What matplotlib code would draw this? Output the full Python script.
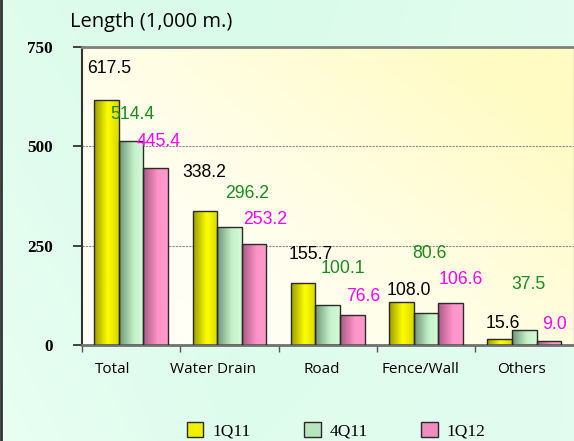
import numpy as np
import matplotlib
matplotlib.use("Agg")
import matplotlib.pyplot as plt
from matplotlib.colors import LinearSegmentedColormap, to_rgb
from matplotlib.patches import Patch

# ---- data ----
categories = ["Total", "Water Drain", "Road", "Fence/Wall", "Others"]
series_names = ["1Q11", "4Q11", "1Q12"]
v_1q11 = [617.5, 338.2, 155.7, 108.0, 15.6]
v_4q11 = [514.4, 296.2, 100.1, 80.6, 37.5]
v_1q12 = [445.4, 253.2, 76.6, 106.6, 9.0]
y_ticks = [0, 250, 500, 750]

# label placement (text positions, in axis data units)
lab_dx = [[-0.226, -0.256, -0.175, -0.175, -0.221],
          [0.013, 0.175, 0.150, 0.033, 0.043],
          [0.282, 0.368, 0.363, 0.358, 0.302]]
lab_y = [[697, 434, 229, 137, 54],
         [580, 382.5, 192.5, 231.5, 153.5],
         [512, 314.6, 121, 163.6, 51.6]]
cat_label_dx = [-0.19, -0.17, -0.06, -0.06, -0.03]

values = [v_1q11, v_4q11, v_1q12]
label_colors = ["#000000", "#1a8c1a", "#ff00ff"]
grad_stops = [
    [(0.0, "#9a9a00"), (0.55, "#ffff00"), (1.0, "#d8d800")],
    [(0.0, "#6e9478"), (0.6, "#c4f2c8"), (1.0, "#d4fad6")],
    [(0.0, "#a85a86"), (0.6, "#ff94c8"), (1.0, "#ff9acc")],
]
legend_colors = ["#f0f000", "#b8e6bc", "#f08cc0"]

W, H = 574, 441
fig = plt.figure(figsize=(W / 100, H / 100), dpi=100)

# figure background gradient
bg = fig.add_axes([0, 0, 1, 1], zorder=-10)
gx, gy = np.meshgrid(np.linspace(0, 1, 200), np.linspace(0, 1, 200))
c1 = np.array(to_rgb("#d9fbe9"))
c2 = np.array(to_rgb("#ecfff6"))
t = np.clip(np.abs(gx - 0.4) * 0.8 + gy * 0.5 * (1 - gx), 0, 1)[..., None]
img = c1 + (c2 - c1) * t
bg.imshow(img, extent=[0, 1, 0, 1], aspect="auto", origin="upper")
bg.set_xlim(0, 1); bg.set_ylim(0, 1)
bg.axis("off")
bg.plot([0.001, 0.001], [0, 1], color="#333333", lw=2)

left = 82 / W
bottom = (H - 345) / H
top = (H - 47) / H
ax = fig.add_axes([left, bottom, 1 - left - 0.5 / W, top - bottom])

ax.set_xlim(-0.5, len(categories) - 0.5)
ax.set_ylim(0, 750)

# plot-area gradient
px, py = np.meshgrid(np.linspace(0, 1, 200), np.linspace(1, 0, 200))
p1 = np.array(to_rgb("#fffff6"))
p2 = np.array(to_rgb("#fffbc2"))
tp = np.clip((px * 0.8 + py * 0.6) - 0.25, 0, 1) ** 1.3
pimg = p1 + (p2 - p1) * tp[..., None]
ax.imshow(pimg, extent=[-0.5, len(categories) - 0.5, 0, 750], aspect="auto",
          origin="upper", zorder=0)

# gridlines
for yv in [250, 500]:
    ax.axhline(yv, color="#8a8a8a", lw=0.8, ls=(0, (2, 1)), zorder=1)

bw = 0.25
x = np.arange(len(categories))
grad = np.linspace(0, 1, 64).reshape(1, -1)
for si, vals in enumerate(values):
    cmap = LinearSegmentedColormap.from_list("g%d" % si, grad_stops[si])
    offs = (si - 1) * bw
    bars = ax.bar(x + offs, vals, width=bw, color="none",
                  edgecolor="#2a2a2a", lw=1.0, zorder=3)
    for b in bars:
        bx, by = b.get_x(), b.get_y()
        im = ax.imshow(grad, cmap=cmap, aspect="auto",
                       extent=[bx, bx + b.get_width(), by, by + b.get_height()],
                       zorder=2, interpolation="bicubic")
        im.set_clip_path(b)
    for ci, v in enumerate(vals):
        ax.text(ci + lab_dx[si][ci], lab_y[si][ci], "%.1f" % v,
                ha="center", va="center", color=label_colors[si],
                fontsize=12.7, family="Liberation Sans", zorder=5)

ax.set_xlim(-0.5, len(categories) - 0.5)
ax.set_ylim(0, 750)

# y axis
ax.set_yticks(y_ticks)
ax.set_yticklabels([str(v) for v in y_ticks], fontsize=12.3,
                   family="Liberation Serif", fontweight="bold")
ax.tick_params(axis="y", length=6.5, width=1.3, color="#333333", pad=14.5)

# x axis
ax.set_xticks(x + np.array(cat_label_dx))
ax.set_xticklabels(categories, fontsize=11, family="Open Sans")
ax.set_xticks(np.arange(len(categories)) - 0.5, minor=True)
ax.tick_params(axis="x", which="major", length=0, pad=12)
ax.tick_params(axis="x", which="minor", length=5, width=1.0, color="#555555")

ax.spines["left"].set_color("#333333")
ax.spines["left"].set_linewidth(1.5)
ax.spines["bottom"].set_color("#707070")
ax.spines["bottom"].set_linewidth(2)
ax.spines["top"].set_color("#808080")
ax.spines["top"].set_linewidth(2)
ax.spines["right"].set_color("#b8b8b8")
ax.spines["right"].set_linewidth(1)

fig.text(70 / W, 1 - 22 / H, "Length (1,000 m.)", fontsize=14.5,
         family="Open Sans", ha="left", va="center")

handles = [Patch(facecolor=legend_colors[i], edgecolor="#2a2a2a", lw=1.0)
           for i in range(3)]
fig.legend(handles, series_names, loc="lower left",
           bbox_to_anchor=(187 / W, 2 / H), ncol=3, frameon=False,
           prop={"family": "Liberation Serif", "size": 12.5},
           handlelength=0.95, handleheight=0.95, handletextpad=0.5,
           columnspacing=3.1, borderpad=0, borderaxespad=0)

fig.savefig("out.png", dpi=100)
